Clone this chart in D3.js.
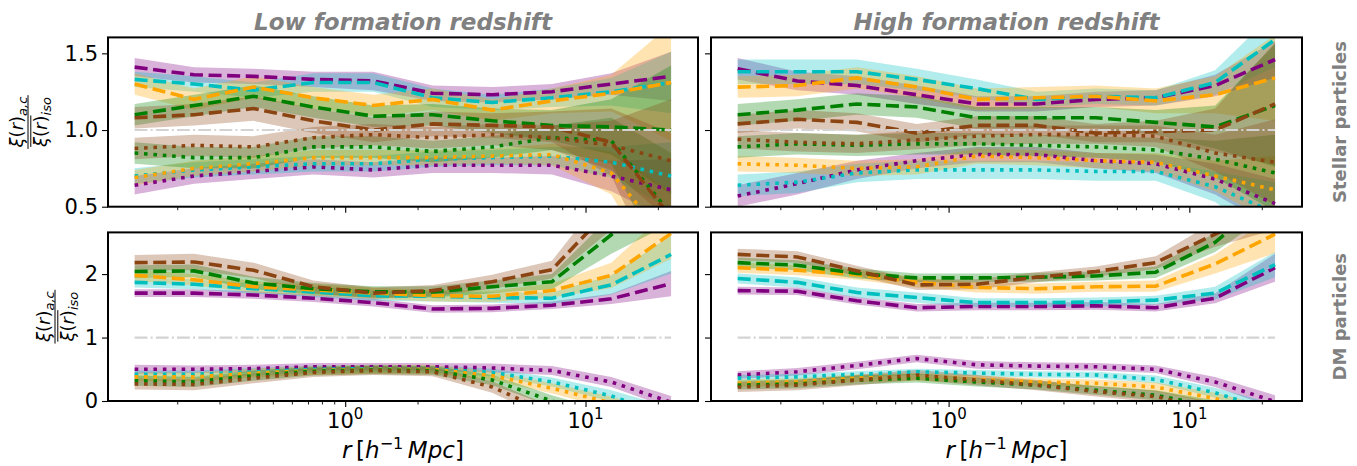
<!DOCTYPE html>
<html><head><meta charset="utf-8">
<script src="https://cdn.jsdelivr.net/npm/d3@7"></script>
<style>body{margin:0;background:#fff}svg{display:block}text{font-family:"DejaVu Sans",sans-serif}</style>
</head><body><svg id="chart" width="1357" height="466"></svg>
<script>
// ---------- data ----------
const xVals = [0.133, 0.235, 0.416, 0.737, 1.31, 2.31, 4.09, 7.25, 12.8, 22.7];
const seriesColors = ["#800080", "#00bfbf", "#ffa500", "#008000", "#8b4513"]; // purple, cyan, orange, green, brown
const colTitles = ["Low formation redshift", "High formation redshift"];
const rowLabels = ["Stellar particles", "DM particles"];
const stellarTicks = [0.5, 1.0, 1.5];
const stellarTickLabels = ["0.5", "1.0", "1.5"];
const dmTicks = [0, 1, 2];
const dmTickLabels = ["0", "1", "2"];
const xMajorTicks = [1, 10];
const xTickExponents = ["0", "1"];
const xMinorTicks = [0.2, 0.3, 0.4, 0.5, 0.6, 0.7, 0.8, 0.9, 2, 3, 4, 5, 6, 7, 8, 9, 20];

// Low formation redshift, stellar particles
const lowStellarA = [
  [1.41, 1.36, 1.35, 1.33, 1.32, 1.24, 1.23, 1.25, 1.30, 1.35],
  [1.33, 1.30, 1.26, 1.31, 1.31, 1.21, 1.18, 1.21, 1.25, 1.31],
  [1.30, 1.20, 1.28, 1.21, 1.16, 1.20, 1.13, 1.19, 1.24, 1.31],
  [1.10, 1.16, 1.22, 1.15, 1.09, 1.10, 1.06, 1.03, 1.02, 1.00],
  [1.08, 1.10, 1.14, 1.06, 1.00, 1.04, 1.03, 1.02, 0.92, 0.43]
];
const lowStellarAErr = [
  [0.06, 0.05, 0.05, 0.05, 0.06, 0.05, 0.05, 0.05, 0.07, 0.16],
  [0.05, 0.05, 0.05, 0.06, 0.06, 0.06, 0.05, 0.06, 0.09, 0.20],
  [0.07, 0.07, 0.07, 0.07, 0.07, 0.07, 0.07, 0.08, 0.12, 0.38],
  [0.07, 0.07, 0.07, 0.07, 0.07, 0.07, 0.08, 0.10, 0.18, 0.42],
  [0.07, 0.07, 0.08, 0.08, 0.08, 0.08, 0.08, 0.10, 0.22, 0.55]
];
const lowStellarC = [
  [0.64, 0.70, 0.73, 0.76, 0.74, 0.77, 0.77, 0.77, 0.70, 0.61],
  [0.70, 0.74, 0.76, 0.78, 0.78, 0.81, 0.82, 0.83, 0.79, 0.70],
  [0.69, 0.75, 0.78, 0.82, 0.82, 0.82, 0.83, 0.84, 0.72, 0.25],
  [0.85, 0.82, 0.82, 0.89, 0.89, 0.86, 0.89, 0.95, 0.93, 0.45],
  [0.88, 0.90, 0.89, 0.95, 0.97, 0.95, 0.97, 0.95, 0.90, 0.80]
];
const lowStellarCErr = [
  [0.06, 0.05, 0.05, 0.05, 0.05, 0.05, 0.05, 0.06, 0.10, 0.20],
  [0.05, 0.05, 0.05, 0.05, 0.05, 0.05, 0.05, 0.06, 0.10, 0.22],
  [0.05, 0.05, 0.05, 0.05, 0.05, 0.05, 0.05, 0.07, 0.14, 0.35],
  [0.07, 0.07, 0.07, 0.07, 0.07, 0.07, 0.07, 0.08, 0.15, 0.40],
  [0.07, 0.07, 0.07, 0.07, 0.07, 0.07, 0.07, 0.08, 0.16, 0.40]
];

// High formation redshift, stellar particles
const highStellarA = [
  [1.40, 1.32, 1.29, 1.23, 1.17, 1.17, 1.20, 1.21, 1.29, 1.46],
  [1.38, 1.38, 1.38, 1.33, 1.27, 1.20, 1.22, 1.21, 1.31, 1.59],
  [1.28, 1.29, 1.34, 1.28, 1.20, 1.21, 1.22, 1.19, 1.23, 1.34],
  [1.10, 1.13, 1.17, 1.15, 1.08, 1.08, 1.08, 1.05, 1.02, 1.16],
  [1.04, 1.07, 1.05, 0.98, 1.03, 1.03, 0.98, 0.99, 1.00, 1.17]
];
const highStellarAErr = [
  [0.07, 0.06, 0.06, 0.06, 0.05, 0.05, 0.05, 0.05, 0.07, 0.12],
  [0.08, 0.08, 0.08, 0.07, 0.06, 0.05, 0.05, 0.05, 0.08, 0.18],
  [0.07, 0.07, 0.07, 0.07, 0.07, 0.07, 0.07, 0.08, 0.12, 0.28],
  [0.07, 0.07, 0.07, 0.07, 0.07, 0.07, 0.07, 0.08, 0.14, 0.40],
  [0.06, 0.06, 0.06, 0.06, 0.06, 0.06, 0.06, 0.07, 0.14, 0.40]
];
const highStellarC = [
  [0.57, 0.65, 0.74, 0.80, 0.84, 0.84, 0.80, 0.78, 0.68, 0.52],
  [0.64, 0.66, 0.72, 0.74, 0.74, 0.74, 0.73, 0.73, 0.63, 0.46],
  [0.78, 0.77, 0.75, 0.76, 0.83, 0.82, 0.80, 0.79, 0.70, 0.61],
  [0.89, 0.91, 0.90, 0.91, 0.91, 0.90, 0.89, 0.87, 0.81, 0.72],
  [0.94, 0.92, 0.91, 0.935, 0.96, 0.97, 0.97, 0.96, 0.85, 0.79]
];
const highStellarCErr = [
  [0.07, 0.07, 0.06, 0.05, 0.05, 0.05, 0.05, 0.06, 0.10, 0.16],
  [0.07, 0.07, 0.06, 0.06, 0.06, 0.06, 0.06, 0.06, 0.10, 0.20],
  [0.05, 0.05, 0.05, 0.05, 0.05, 0.05, 0.05, 0.06, 0.10, 0.22],
  [0.07, 0.07, 0.07, 0.07, 0.07, 0.07, 0.07, 0.08, 0.12, 0.25],
  [0.06, 0.06, 0.06, 0.06, 0.06, 0.06, 0.06, 0.07, 0.12, 0.28]
];

// Low formation redshift, DM particles
const lowDmA = [
  [1.70, 1.70, 1.67, 1.62, 1.55, 1.45, 1.46, 1.51, 1.61, 1.85],
  [1.87, 1.84, 1.77, 1.72, 1.66, 1.65, 1.63, 1.62, 1.83, 2.31],
  [1.98, 1.91, 1.80, 1.75, 1.70, 1.66, 1.65, 1.74, 1.98, 2.64],
  [2.04, 2.05, 1.86, 1.77, 1.72, 1.72, 1.80, 1.88, 2.62, 3.30],
  [2.18, 2.19, 2.06, 1.80, 1.70, 1.74, 1.88, 2.07, 3.05, 3.80]
];
const lowDmAErr = [
  [0.06, 0.06, 0.06, 0.06, 0.06, 0.06, 0.06, 0.06, 0.08, 0.20],
  [0.08, 0.08, 0.08, 0.08, 0.08, 0.08, 0.08, 0.09, 0.15, 0.30],
  [0.09, 0.09, 0.09, 0.09, 0.09, 0.09, 0.09, 0.11, 0.20, 0.40],
  [0.10, 0.10, 0.10, 0.09, 0.09, 0.09, 0.10, 0.12, 0.30, 0.50],
  [0.12, 0.13, 0.12, 0.10, 0.09, 0.09, 0.11, 0.14, 0.35, 0.60]
];
const lowDmC = [
  [0.50, 0.50, 0.51, 0.54, 0.54, 0.54, 0.52, 0.48, 0.30, -0.02],
  [0.42, 0.42, 0.46, 0.50, 0.51, 0.50, 0.45, 0.30, 0.08, -0.25],
  [0.38, 0.38, 0.44, 0.48, 0.50, 0.50, 0.40, 0.20, -0.03, -0.40],
  [0.32, 0.30, 0.40, 0.47, 0.49, 0.48, 0.33, 0.00, -0.30, -0.60],
  [0.27, 0.26, 0.36, 0.45, 0.48, 0.46, 0.22, -0.20, -0.60, -1.00]
];
const lowDmCErr = [
  [0.07, 0.06, 0.06, 0.06, 0.06, 0.06, 0.07, 0.07, 0.08, 0.10],
  [0.06, 0.06, 0.06, 0.06, 0.06, 0.06, 0.06, 0.07, 0.09, 0.15],
  [0.07, 0.07, 0.07, 0.07, 0.07, 0.07, 0.07, 0.08, 0.10, 0.18],
  [0.08, 0.08, 0.08, 0.07, 0.07, 0.07, 0.08, 0.09, 0.12, 0.20],
  [0.09, 0.09, 0.08, 0.07, 0.07, 0.07, 0.09, 0.11, 0.15, 0.25]
];

// High formation redshift, DM particles
const highDmA = [
  [1.74, 1.73, 1.58, 1.47, 1.49, 1.49, 1.50, 1.47, 1.62, 2.10],
  [1.93, 1.87, 1.71, 1.63, 1.55, 1.55, 1.56, 1.59, 1.70, 2.15],
  [2.10, 2.06, 1.99, 1.87, 1.79, 1.77, 1.80, 1.81, 2.16, 2.63],
  [2.18, 2.14, 2.01, 1.94, 1.94, 1.95, 1.97, 2.03, 2.50, 3.30],
  [2.31, 2.27, 2.05, 1.83, 1.84, 1.95, 2.04, 2.18, 2.63, 3.10]
];
const highDmAErr = [
  [0.06, 0.06, 0.06, 0.06, 0.06, 0.06, 0.06, 0.06, 0.08, 0.22],
  [0.08, 0.08, 0.08, 0.08, 0.07, 0.07, 0.07, 0.07, 0.10, 0.20],
  [0.08, 0.08, 0.08, 0.08, 0.08, 0.08, 0.08, 0.09, 0.15, 0.30],
  [0.08, 0.08, 0.08, 0.07, 0.07, 0.07, 0.07, 0.09, 0.15, 0.30],
  [0.09, 0.09, 0.08, 0.08, 0.08, 0.08, 0.08, 0.10, 0.20, 0.40]
];
const highDmC = [
  [0.41, 0.46, 0.56, 0.67, 0.57, 0.55, 0.54, 0.50, 0.30, -0.01],
  [0.36, 0.38, 0.42, 0.46, 0.44, 0.42, 0.41, 0.34, 0.13, -0.17],
  [0.28, 0.30, 0.36, 0.38, 0.34, 0.30, 0.28, 0.22, 0.04, -0.25],
  [0.25, 0.27, 0.33, 0.36, 0.30, 0.25, 0.17, 0.09, -0.09, -0.35],
  [0.22, 0.25, 0.33, 0.41, 0.33, 0.25, 0.15, 0.07, -0.14, -0.40]
];
const highDmCErr = [
  [0.06, 0.06, 0.06, 0.06, 0.06, 0.06, 0.06, 0.06, 0.08, 0.10],
  [0.05, 0.05, 0.05, 0.05, 0.05, 0.05, 0.05, 0.06, 0.08, 0.12],
  [0.06, 0.06, 0.06, 0.06, 0.06, 0.06, 0.06, 0.07, 0.09, 0.14],
  [0.07, 0.07, 0.07, 0.07, 0.07, 0.07, 0.07, 0.08, 0.10, 0.16],
  [0.08, 0.08, 0.08, 0.08, 0.08, 0.08, 0.08, 0.09, 0.12, 0.18]
];

// ---------- layout ----------
const colX = [[108, 698], [711, 1302]];
const rowY = [[37.4, 206.7], [232.4, 401]];
const yDomains = [[0.5, 1.604], [0, 2.657]];
const xDomain = [Math.pow(10, -0.987), Math.pow(10, 1.468)];
const GRAY = "#808080";

const panels = [
  {row: 0, col: 0, a: lowStellarA, aErr: lowStellarAErr, c: lowStellarC, cErr: lowStellarCErr},
  {row: 0, col: 1, a: highStellarA, aErr: highStellarAErr, c: highStellarC, cErr: highStellarCErr},
  {row: 1, col: 0, a: lowDmA, aErr: lowDmAErr, c: lowDmC, cErr: lowDmCErr},
  {row: 1, col: 1, a: highDmA, aErr: highDmAErr, c: highDmC, cErr: highDmCErr}
];

const svg = d3.select("#chart");
svg.append("rect").attr("width", 1357).attr("height", 466).attr("fill", "#fff");
const defs = svg.append("defs");

panels.forEach((p, pi) => {
  const [x0, x1] = colX[p.col];
  const [y0, y1] = rowY[p.row];
  const x = d3.scaleLog().domain(xDomain).range([x0, x1]);
  const y = d3.scaleLinear().domain(yDomains[p.row]).range([y1, y0]);

  defs.append("clipPath").attr("id", "clip" + pi)
    .append("rect").attr("x", x0).attr("y", y0).attr("width", x1 - x0).attr("height", y1 - y0);

  const g = svg.append("g").attr("clip-path", `url(#clip${pi})`);

  const area = d3.area().x(d => x(d.x)).y0(d => y(d.v - d.e)).y1(d => y(d.v + d.e));
  const line = d3.line().x(d => x(d.x)).y(d => y(d.v));
  const pts = (vals, errs) => xVals.map((xv, i) => ({x: xv, v: vals[i], e: errs[i]}));

  // bands (below all lines, like matplotlib collections)
  seriesColors.forEach((col, si) => {
    g.append("path").attr("d", area(pts(p.a[si], p.aErr[si])))
      .attr("fill", col).attr("fill-opacity", 0.3).attr("stroke", "none");
    g.append("path").attr("d", area(pts(p.c[si], p.cErr[si])))
      .attr("fill", col).attr("fill-opacity", 0.3).attr("stroke", "none");
  });
  // lines
  seriesColors.forEach((col, si) => {
    g.append("path").attr("d", line(pts(p.a[si], p.aErr[si])))
      .attr("fill", "none").attr("stroke", col).attr("stroke-width", 3.6)
      .attr("stroke-dasharray", "13 5.6");
    g.append("path").attr("d", line(pts(p.c[si], p.cErr[si])))
      .attr("fill", "none").attr("stroke", col).attr("stroke-width", 3.6)
      .attr("stroke-dasharray", "3.6 5.8");
  });
  // reference line at 1
  g.append("path").attr("d", line([{x: xVals[0], v: 1}, {x: xVals[xVals.length - 1], v: 1}]))
    .attr("fill", "none").attr("stroke", "#d3d3d3").attr("stroke-width", 2.2)
    .attr("stroke-dasharray", "12.8 3.2 2 3.2");

  // axes ticks
  const yTicks = p.row === 0 ? stellarTicks : dmTicks;
  const yLabels = p.row === 0 ? stellarTickLabels : dmTickLabels;
  const yAx = svg.append("g").attr("transform", `translate(${x0},0)`)
    .call(d3.axisLeft(y).tickValues(yTicks).tickSize(6).tickPadding(4)
      .tickFormat((d, i) => p.col === 0 ? yLabels[i] : ""));
  yAx.select(".domain").remove();
  yAx.selectAll("line").attr("stroke", "#000").attr("stroke-width", 1.1);
  yAx.selectAll("text").attr("font-size", 21).attr("fill", "#000")
    .attr("font-family", "DejaVu Sans");

  const xMaj = svg.append("g").attr("transform", `translate(0,${y1})`)
    .call(d3.axisBottom(x).tickValues(xMajorTicks).tickSize(6).tickFormat(""));
  xMaj.select(".domain").remove();
  xMaj.selectAll("line").attr("stroke", "#000").attr("stroke-width", 1.1);
  const xMin = svg.append("g").attr("transform", `translate(0,${y1})`)
    .call(d3.axisBottom(x).tickValues(xMinorTicks).tickSize(3.5).tickFormat(""));
  xMin.select(".domain").remove();
  xMin.selectAll("line").attr("stroke", "#000").attr("stroke-width", 0.9);

  if (p.row === 1) {
    xMajorTicks.forEach((tv, i) => {
      const t = svg.append("text").attr("x", x(tv)).attr("y", y1 + 27)
        .attr("text-anchor", "middle").attr("font-size", 21).attr("fill", "#000");
      t.append("tspan").text("10");
      t.append("tspan").attr("dy", -9).attr("font-size", 15).text(xTickExponents[i]);
    });
    // x label  r [h^-1 Mpc]
    const xl = svg.append("text").attr("x", (x0 + x1) / 2).attr("y", 458)
      .attr("text-anchor", "middle").attr("font-size", 23).attr("fill", "#000");
    xl.append("tspan").attr("font-style", "italic").text("r");
    xl.append("tspan").text("\u2009[");
    xl.append("tspan").attr("font-style", "italic").text("h");
    xl.append("tspan").attr("dy", -9).attr("font-size", 16).text("\u22121");
    xl.append("tspan").attr("dy", 9).attr("font-style", "italic").text("\u2009Mpc");
    xl.append("tspan").text("]");
  }

  // frame (spines on top)
  svg.append("rect").attr("x", x0).attr("y", y0).attr("width", x1 - x0).attr("height", y1 - y0)
    .attr("fill", "none").attr("stroke", "#000").attr("stroke-width", 2);

  // column titles
  if (p.row === 0) {
    svg.append("text").attr("x", (x0 + x1) / 2).attr("y", 30).attr("text-anchor", "middle")
      .attr("font-size", 23).attr("font-weight", "bold").attr("font-style", "italic")
      .attr("fill", GRAY).text(colTitles[p.col]);
  }
  // row labels on right
  if (p.col === 1) {
    svg.append("text").attr("transform", `translate(1346,${(y0 + y1) / 2}) rotate(-90)`)
      .attr("text-anchor", "middle").attr("font-size", 18).attr("font-weight", "bold")
      .attr("fill", GRAY).text(rowLabels[p.row]);
  }
  // y label fraction
  if (p.col === 0) {
    const cx = p.row === 0 ? 28 : 55;
    const lg = svg.append("g").attr("transform", `translate(${cx},${(y0 + y1) / 2}) rotate(-90)`);
    const num = lg.append("text").attr("x", 0).attr("y", -5.5).attr("text-anchor", "middle")
      .attr("font-size", 18).attr("fill", "#000");
    num.append("tspan").attr("font-style", "italic").text("\u03BE");
    num.append("tspan").text("(");
    num.append("tspan").attr("font-style", "italic").text("r");
    num.append("tspan").text(")");
    num.append("tspan").attr("dy", 4).attr("font-size", 13).attr("font-style", "italic").text("a,c");
    const den = lg.append("text").attr("x", 0).attr("y", 19).attr("text-anchor", "middle")
      .attr("font-size", 18).attr("fill", "#000");
    den.append("tspan").attr("font-style", "italic").text("\u03BE");
    den.append("tspan").text("(");
    den.append("tspan").attr("font-style", "italic").text("r");
    den.append("tspan").text(")");
    den.append("tspan").attr("dy", 4).attr("font-size", 13).attr("font-style", "italic").text("iso");
    const nw = num.node().getComputedTextLength();
    const dw = den.node().getComputedTextLength();
    const fw = Math.max(nw, dw) + 3;
    lg.append("line").attr("x1", -fw / 2).attr("x2", fw / 2).attr("y1", 0).attr("y2", 0)
      .attr("stroke", "#000").attr("stroke-width", 1);
    let ow = 0;
    try { ow = den.node().getSubStringLength(0, 4); } catch (e) { ow = dw * 0.6; }
    lg.append("line").attr("x1", -dw / 2).attr("x2", -dw / 2 + ow).attr("y1", 2.8).attr("y2", 2.8)
      .attr("stroke", "#000").attr("stroke-width", 1);
  }
});
</script></body></html>
